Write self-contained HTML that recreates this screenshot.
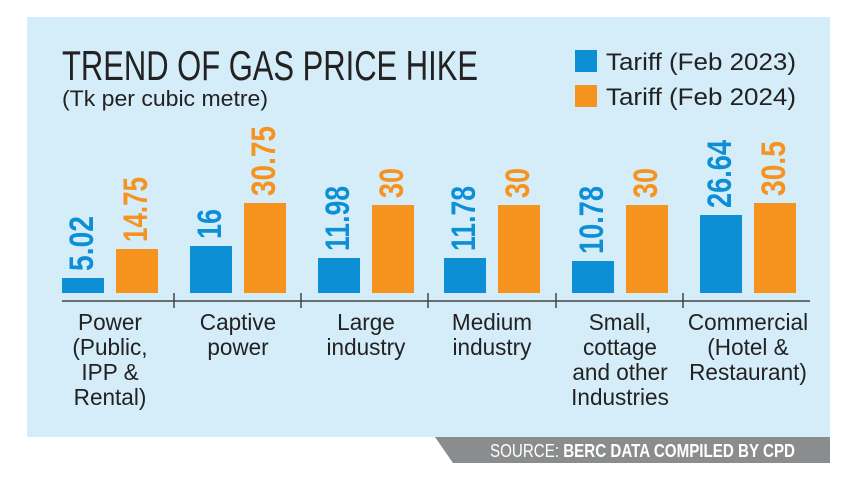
<!DOCTYPE html>
<html><head><meta charset="utf-8"><style>html,body{margin:0;padding:0;background:#fff}svg{display:block}</style></head>
<body>
<svg width="857" height="482" viewBox="0 0 857 482" xmlns="http://www.w3.org/2000/svg" font-family="Liberation Sans, sans-serif">
<rect x="0" y="0" width="857" height="482" fill="#fff"/>
<rect x="27" y="17" width="803" height="420" fill="#d5edf9"/>
<polygon points="435,437 830,437 830,463 453,463" fill="#8b8c8e"/>
<text x="490" y="457" font-size="18" fill="#fff" textLength="305" lengthAdjust="spacingAndGlyphs">SOURCE: <tspan font-weight="bold">BERC DATA COMPILED BY CPD</tspan></text>
<text x="62" y="80" font-size="42" fill="#222" textLength="416" lengthAdjust="spacingAndGlyphs">TREND OF GAS PRICE HIKE</text>
<text x="62" y="106" font-size="22" fill="#222" textLength="206" lengthAdjust="spacingAndGlyphs">(Tk per cubic metre)</text>
<rect x="575" y="50" width="22" height="22" fill="#0d8fd6"/>
<text x="606" y="70" font-size="24" fill="#222" textLength="190" lengthAdjust="spacingAndGlyphs">Tariff (Feb 2023)</text>
<rect x="575" y="85" width="22" height="22" fill="#f6921e"/>
<text x="606" y="105" font-size="24" fill="#222" textLength="190" lengthAdjust="spacingAndGlyphs">Tariff (Feb 2024)</text>
<g id="bars">
<rect x="62" y="278" width="42" height="15" fill="#0d8fd6"/>
<rect x="116" y="249" width="42" height="44" fill="#f6921e"/>
<rect x="190" y="246" width="42" height="47" fill="#0d8fd6"/>
<rect x="244" y="203" width="42" height="90" fill="#f6921e"/>
<rect x="318" y="258" width="42" height="35" fill="#0d8fd6"/>
<rect x="372" y="205" width="42" height="88" fill="#f6921e"/>
<rect x="444" y="258" width="42" height="35" fill="#0d8fd6"/>
<rect x="498" y="205" width="42" height="88" fill="#f6921e"/>
<rect x="572" y="261" width="42" height="32" fill="#0d8fd6"/>
<rect x="626" y="205" width="42" height="88" fill="#f6921e"/>
<rect x="700" y="215" width="42" height="78" fill="#0d8fd6"/>
<rect x="754" y="203" width="42" height="90" fill="#f6921e"/>
</g>
<g font-size="34" font-weight="bold">
<text transform="translate(93,271) rotate(-90)" fill="#0d8fd6" textLength="55" lengthAdjust="spacingAndGlyphs">5.02</text>
<text transform="translate(147,242) rotate(-90)" fill="#f6921e" textLength="65" lengthAdjust="spacingAndGlyphs">14.75</text>
<text transform="translate(221,239) rotate(-90)" fill="#0d8fd6" textLength="30" lengthAdjust="spacingAndGlyphs">16</text>
<text transform="translate(275,196) rotate(-90)" fill="#f6921e" textLength="70" lengthAdjust="spacingAndGlyphs">30.75</text>
<text transform="translate(349,251) rotate(-90)" fill="#0d8fd6" textLength="65" lengthAdjust="spacingAndGlyphs">11.98</text>
<text transform="translate(403,198) rotate(-90)" fill="#f6921e" textLength="30" lengthAdjust="spacingAndGlyphs">30</text>
<text transform="translate(475,251) rotate(-90)" fill="#0d8fd6" textLength="65" lengthAdjust="spacingAndGlyphs">11.78</text>
<text transform="translate(529,198) rotate(-90)" fill="#f6921e" textLength="30" lengthAdjust="spacingAndGlyphs">30</text>
<text transform="translate(603,254) rotate(-90)" fill="#0d8fd6" textLength="68" lengthAdjust="spacingAndGlyphs">10.78</text>
<text transform="translate(657,198) rotate(-90)" fill="#f6921e" textLength="30" lengthAdjust="spacingAndGlyphs">30</text>
<text transform="translate(731,208) rotate(-90)" fill="#0d8fd6" textLength="68" lengthAdjust="spacingAndGlyphs">26.64</text>
<text transform="translate(785,196) rotate(-90)" fill="#f6921e" textLength="55" lengthAdjust="spacingAndGlyphs">30.5</text>
</g>
<g stroke="#444" stroke-width="1.5">
<line x1="62" y1="301" x2="810" y2="301"/>
<line x1="174" y1="293" x2="174" y2="308"/>
<line x1="301" y1="293" x2="301" y2="308"/>
<line x1="428" y1="293" x2="428" y2="308"/>
<line x1="556" y1="293" x2="556" y2="308"/>
<line x1="683" y1="293" x2="683" y2="308"/>
</g>
<g font-size="23" fill="#222" text-anchor="middle">
<g transform="translate(110,0) scale(0.98,1)"><text x="0" y="330">Power</text><text x="0" y="355">(Public,</text><text x="0" y="380">IPP &amp;</text><text x="0" y="405">Rental)</text></g>
<g transform="translate(238,0) scale(0.98,1)"><text x="0" y="330">Captive</text><text x="0" y="355">power</text></g>
<g transform="translate(366,0) scale(0.98,1)"><text x="0" y="330">Large</text><text x="0" y="355">industry</text></g>
<g transform="translate(492,0) scale(0.98,1)"><text x="0" y="330">Medium</text><text x="0" y="355">industry</text></g>
<g transform="translate(620,0) scale(0.98,1)"><text x="0" y="330">Small,</text><text x="0" y="355">cottage</text><text x="0" y="380">and other</text><text x="0" y="405">Industries</text></g>
<g transform="translate(748,0) scale(0.98,1)"><text x="0" y="330">Commercial</text><text x="0" y="355">(Hotel &amp;</text><text x="0" y="380">Restaurant)</text></g>
</g>
</svg>
</body></html>
